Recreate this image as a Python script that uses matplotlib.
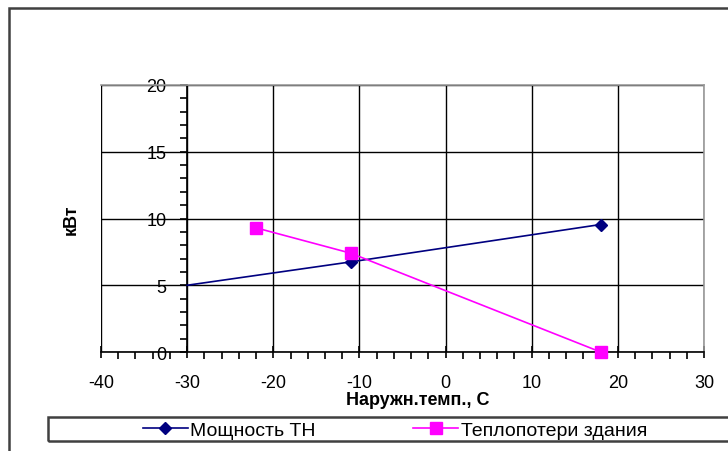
import matplotlib.pyplot as plt
from matplotlib.patches import Rectangle
from matplotlib.ticker import MultipleLocator

plt.rcParams['font.family'] = ['Liberation Sans', 'DejaVu Sans']
plt.rcParams['axes.unicode_minus'] = False

# data
temp_hp = [-30, -11, 18]
power_hp = [5.0, 6.75, 9.55]
temp_loss = [-22, -11, 18]
heat_loss = [9.3, 7.4, 0.0]

label_hp = "Мощность ТН"
label_loss = "Теплопотери здания"
xlabel = "Наружн.темп., С"
ylabel = "кВт"

fig = plt.figure(figsize=(7.28, 4.52), dpi=100)
W, H = 728, 452

# outer chart frame and legend box (Excel style)
fig.patches.append(Rectangle((9 / W, -0.1), 1.1, 1 - 9 / H + 0.1, transform=fig.transFigure,
                             fill=False, edgecolor='#404040', linewidth=1.8))
fig.patches.append(Rectangle((48 / W, 1 - 442 / H), 1.1, 24 / H, transform=fig.transFigure,
                             fill=False, edgecolor='#404040', linewidth=1.8))

ax = fig.add_axes([101 / W, 1 - 353 / H, 603 / W, 267 / H])
ax.set_xlim(-40, 30)
ax.set_ylim(0, 20)

ax.plot(temp_hp, power_hp, color='#000080', linewidth=1.2, marker='D', markersize=6,
        markevery=[1, 2], label=label_hp, zorder=4)
ax.plot(temp_loss, heat_loss, color='#FF00FF', linewidth=1.2, marker='s', markersize=8,
        label=label_loss, zorder=4, clip_on=False)

ax.xaxis.set_major_locator(MultipleLocator(10))
ax.xaxis.set_minor_locator(MultipleLocator(2))
ax.yaxis.set_major_locator(MultipleLocator(5))
ax.yaxis.set_minor_locator(MultipleLocator(1))

ax.grid(True, which='major', color='black', linewidth=1.0)
for gl in (ax.get_xgridlines()[0], ax.get_xgridlines()[-1],
           ax.get_ygridlines()[0], ax.get_ygridlines()[-1]):
    gl.set_visible(False)

ax.spines['left'].set_position(('data', -30))
ax.spines['left'].set_linewidth(1.2)
ax.spines['bottom'].set_linewidth(1.2)
for s in ('top', 'right'):
    ax.spines[s].set_color('#999999')
    ax.spines[s].set_linewidth(1.2)
ax.axvline(-40, color='#999999', linewidth=1.2, zorder=1)

ax.tick_params(axis='x', which='major', direction='inout', length=9, width=1.2,
               labelsize=13, pad=11)
ax.tick_params(axis='x', which='minor', direction='out', length=5, width=1.2)
ax.tick_params(axis='y', which='major', direction='out', length=5, width=1.2,
               labelsize=13, pad=10)
ax.tick_params(axis='y', which='minor', direction='out', length=5, width=1.2)

ax.set_xlabel(xlabel, fontsize=13, fontweight='bold', labelpad=0)
ax.xaxis.set_label_coords(0.525, -0.145)
ax.set_ylabel(ylabel, fontsize=13, fontweight='bold')
ax.yaxis.set_label_coords(-0.035, 0.5)

fig.legend(loc='center', bbox_to_anchor=(395 / W, 1 - 431 / H), ncol=2, frameon=False,
           fontsize=14, handlelength=2.3, columnspacing=5.0, handletextpad=0.15)

fig.savefig('out.png', dpi=100)
